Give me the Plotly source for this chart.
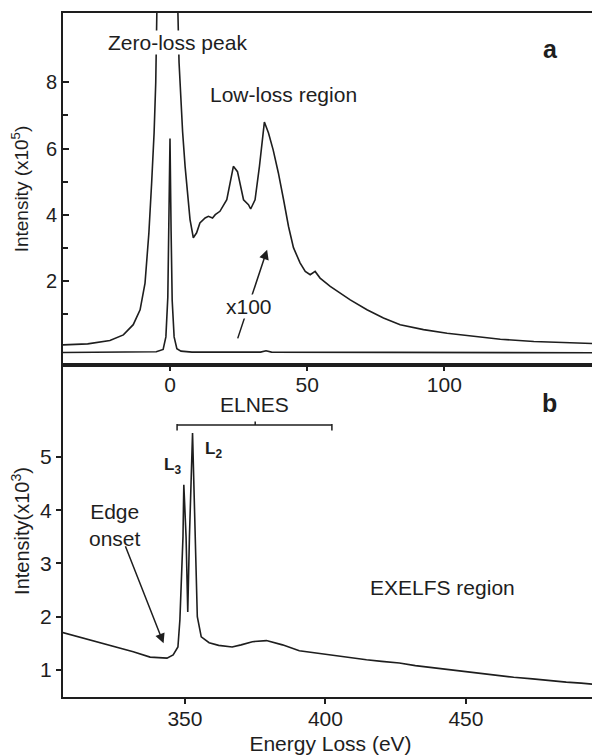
import plotly.graph_objects as go

# ---------------- data ----------------
# Panel a: low-loss spectrum (x100 magnified) and unmagnified zero-loss peak, intensity in 1e5
lowloss_ev = [-39, -30, -21.9, -17, -13.4, -10.9, -9.1, -7.7, -6.7, -5.8, -5.2, -4.85, -4.3, -3, -1,
              1, 2.5, 3.3, 3.9, 4.6, 5.5, 6.1, 7.3, 8.5, 9.7, 10.9, 12.8, 14, 15.5, 16.5, 18.2, 20.7,
              23.1, 24.6, 25.8, 26.8, 28.6, 29.4, 31, 32.6, 34.4, 35.9, 37.6, 39.5, 41.4, 43.2, 45,
              47.4, 49.3, 51.1, 52.9, 54.7, 58.4, 65.7, 71.8, 77.8, 83.9, 92.4, 101, 110.7, 120.4,
              132.6, 144.8, 157]
lowloss_x100 = [0.06, 0.09, 0.19, 0.36, 0.67, 1.12, 1.93, 3.44, 4.95, 6.47, 7.98, 9.5, 12, 20, 30,
                20, 11.5, 8.6, 7.48, 6.5, 5.46, 4.87, 3.85, 3.3, 3.45, 3.75, 3.9, 3.95, 3.9, 4.0, 4.1, 4.45,
                5.46, 5.3, 4.86, 4.45, 4.3, 4.17, 4.45, 5.46, 6.8, 6.47, 5.96, 5.26, 4.45, 3.64, 3.0,
                2.54, 2.28, 2.18, 2.28, 2.08, 1.83, 1.42, 1.12, 0.87, 0.67, 0.52, 0.41, 0.31, 0.23,
                0.16, 0.13, 0.09]

zlp_ev = [-39, -5, -2.5, -1.5, -0.8, -0.4, 0, 0.4, 0.8, 1.5, 2.5, 4, 8, 33, 35, 37, 157]
zlp_int = [-0.17, -0.15, -0.08, 0.3, 1.5, 3.5, 6.3, 3.5, 1.4, 0.3, -0.06, -0.13, -0.16, -0.16, -0.12, -0.16, -0.18]

# Panel b: core-loss edge, intensity in 1e3
core_ev = [306, 313, 320, 326, 331.6, 337.6, 343.6, 345.8, 347.5, 348.2, 349.3, 349.6, 350.4, 351,
           351.6, 352.7, 353.7, 354.4, 355.8, 358.6, 362, 366.8, 370, 374, 379, 384.7, 390.7,
           396, 402.5, 408, 414.6, 420, 426.3, 432, 438.1, 444, 450.2, 455, 461.9, 467, 473.7,
           479, 485.7, 491, 497.4]
core_int = [1.71, 1.61, 1.51, 1.42, 1.34, 1.24, 1.22, 1.28, 1.43, 1.94, 3.5, 4.48, 3.5, 2.09,
            3.5, 5.45, 3.5, 2.0, 1.62, 1.51, 1.46, 1.43, 1.47, 1.53, 1.55, 1.47, 1.36,
            1.32, 1.28, 1.24, 1.19, 1.16, 1.13, 1.08, 1.04, 1.0, 0.96, 0.93, 0.89, 0.86, 0.83,
            0.8, 0.77, 0.75, 0.72]

top_xticks = [0, 50, 100]
top_yticks = [2, 4, 6, 8]
top_yminor = [1, 3, 5, 7]
bot_xticks = [350, 400, 450]
bot_yticks = [1, 2, 3, 4, 5]
elnes_span = [347.2, 375.0, 402.3]   # start, middle, end (eV)
elnes_level = 5.6

# ---------------- figure ----------------
INK = "#1e1e1e"
FONT = "Liberation Sans, Arial, Helvetica, sans-serif"
split = (697 - 365) / 684

fig = go.Figure()
fig.add_trace(go.Scatter(x=lowloss_ev, y=lowloss_x100, mode="lines",
                         line=dict(color=INK, width=1.6), xaxis="x", yaxis="y",
                         showlegend=False))
fig.add_trace(go.Scatter(x=zlp_ev, y=zlp_int, mode="lines",
                         line=dict(color=INK, width=1.6), xaxis="x", yaxis="y",
                         showlegend=False))
fig.add_trace(go.Scatter(x=core_ev, y=core_int, mode="lines",
                         line=dict(color=INK, width=1.6), xaxis="x2", yaxis="y2",
                         showlegend=False))

axis_common = dict(showline=True, linecolor=INK, linewidth=2, mirror=True, automargin=False,
                   showgrid=False, zeroline=False, tickcolor=INK, tickwidth=1.5)

fig.update_layout(
    width=592, height=747,
    margin=dict(l=55, r=2, t=5, b=58),
    paper_bgcolor="white", plot_bgcolor="white",
    font=dict(family=FONT, size=21, color=INK),
    xaxis=dict(domain=[0, 1], range=[-39, 156], anchor="y", tickvals=top_xticks,
               ticks="outside", ticklen=4, ticklabelstandoff=-4,
               tickfont=dict(family=FONT, size=21, color=INK),
               **axis_common),
    yaxis=dict(domain=[split, 1], range=[-0.55, 10.1], anchor="x", tickvals=top_yticks,
               ticks="inside", ticklen=6, tickfont=dict(family=FONT, size=20, color=INK),
               minor=dict(tickvals=top_yminor, ticks="inside", ticklen=5, tickcolor=INK, tickwidth=1.5),
               title=dict(text="Intensity (x10<sup>5</sup>)", font=dict(family=FONT, size=19, color=INK),
                          standoff=12),
               **axis_common),
    xaxis2=dict(domain=[0, 1], range=[306.6, 497], anchor="y2", tickvals=bot_xticks,
                ticks="outside", ticklen=5, ticklabelstandoff=-3,
                tickfont=dict(family=FONT, size=21, color=INK),
                title=dict(text="Energy Loss (eV)", font=dict(family=FONT, size=21, color=INK),
                           standoff=9),
                **axis_common),
    yaxis2=dict(domain=[0, split], range=[0.49, 6.73], anchor="x2", tickvals=bot_yticks,
                ticks="outside", ticklen=5, tickfont=dict(family=FONT, size=21, color=INK),
                title=dict(text="Intensity(x10<sup>3</sup>)", font=dict(family=FONT, size=20, color=INK),
                           standoff=7),
                **axis_common),
)

# ELNES bracket
s0, sm, s1 = elnes_span
shape_line = dict(color=INK, width=1.5)
fig.add_shape(type="line", xref="x2", yref="y2", x0=s0, x1=s1, y0=elnes_level, y1=elnes_level, line=shape_line)
fig.add_shape(type="line", xref="x2", yref="y2", x0=s0, x1=s0, y0=elnes_level - 0.1, y1=elnes_level + 0.02, line=shape_line)
fig.add_shape(type="line", xref="x2", yref="y2", x0=s1, x1=s1, y0=elnes_level - 0.1, y1=elnes_level + 0.02, line=shape_line)
fig.add_shape(type="line", xref="x2", yref="y2", x0=sm, x1=sm, y0=elnes_level, y1=elnes_level + 0.07, line=shape_line)

def txt(text, x, y, xref, yref, size=21, bold=False, bg=None):
    fig.add_annotation(text=f"<b>{text}</b>" if bold else text, x=x, y=y, xref=xref, yref=yref,
                       showarrow=False, font=dict(family=FONT, size=size, color=INK),
                       bgcolor=bg, borderpad=0)

def arrow(x_tail, y_tail, x_head, y_head, xref, yref):
    fig.add_annotation(text="", x=x_head, y=y_head, ax=x_tail, ay=y_tail, xref=xref, yref=yref,
                       axref=xref, ayref=yref, showarrow=True, arrowhead=2, arrowsize=1.3,
                       arrowwidth=1.5, arrowcolor=INK, standoff=0, startstandoff=0)

# Panel a annotations
arrow(24.5, 0.21, 35.4, 2.94, "x", "y")
txt("Zero-loss peak", 2.9, 9.2, "x", "y", size=21, bg="white")
txt("Low-loss region", 41.2, 7.64, "x", "y", size=21)
txt("x100", 28.8, 1.21, "x", "y", size=21, bg="white")
txt("a", 138.7, 9.0, "x", "y", size=25, bold=True)

# Panel b annotations
arrow(328.6, 3.35, 342.4, 1.5, "x2", "y2")
txt("ELNES", 374.6, 5.98, "x2", "y2", size=21)
txt("L<sub>3</sub>", 345.7, 4.83, "x2", "y2", size=17, bold=True)
txt("L<sub>2</sub>", 360.3, 5.14, "x2", "y2", size=17, bold=True)
txt("Edge<br>onset", 325.1, 3.73, "x2", "y2", size=21)
txt("EXELFS region", 441.5, 2.54, "x2", "y2", size=21)
txt("b", 479.9, 6.02, "x2", "y2", size=25, bold=True)

fig.write_html("out.html")
